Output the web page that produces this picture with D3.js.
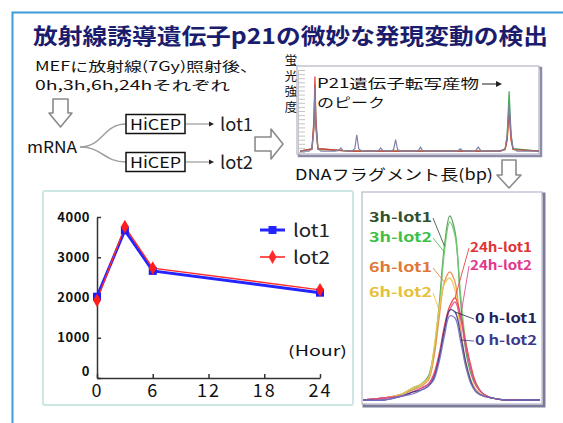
<!DOCTYPE html>
<html>
<head>
<meta charset="utf-8">
<script src="https://cdn.jsdelivr.net/npm/d3@7"></script>
<style>
  body { margin: 0; background: #fff; }
  text { font-family: "Noto Sans CJK JP", sans-serif; }
</style>
</head>
<body>
<div id="chart"></div>
<script>
// 折れ線グラフのデータ
const hours = [0, 3, 6, 24];
const lot1 = [2020, 3670, 2660, 2120];
const lot2 = [1930, 3760, 2730, 2190];
const yTicks = [0, 1000, 2000, 3000, 4000];
const xTicks = [0, 6, 12, 18, 24];
const lotNames = ["lot1", "lot2"];

// 右パネル: p21 ピーク拡大 (横は相対位置, 縦は相対強度)
const peakX = [0, 12, 22, 28, 33, 37, 40, 43, 46, 49, 52, 55, 58, 61, 64, 68, 73, 80, 90, 100];
const peakNames = ["3h-lot1", "3h-lot2", "6h-lot1", "6h-lot2", "24h-lot1", "24h-lot2", "0 h-lot1", "0 h-lot2"];
const peak3h1 = [1, 2, 4, 7, 9, 13, 25, 48, 78, 93, 85, 52, 26, 14, 8, 4, 2, 1, 1, 1];
const peak3h2 = [1, 2, 4, 6, 9, 12, 23, 45, 75, 90, 83, 55, 30, 16, 9, 4, 2, 1, 1, 1];
const peak6h1 = [1, 2, 4, 6, 8, 11, 22, 42, 60, 65, 60, 38, 20, 11, 6, 3, 2, 1, 1, 1];
const peak6h2 = [1, 2, 4, 7, 9, 12, 26, 46, 59, 62, 56, 35, 18, 10, 5, 3, 2, 1, 1, 1];
const peak24h1 = [1, 2, 3, 5, 7, 9, 14, 24, 38, 48, 52, 44, 30, 18, 9, 4, 2, 1, 1, 1];
const peak24h2 = [1, 2, 3, 5, 7, 9, 13, 22, 36, 46, 50, 42, 28, 16, 8, 4, 2, 1, 1, 1];
const peak0h1 = [1, 1, 3, 5, 6, 8, 12, 22, 36, 46, 45, 34, 20, 10, 5, 3, 2, 1, 1, 1];
const peak0h2 = [1, 1, 3, 4, 6, 8, 11, 20, 33, 43, 42, 31, 18, 9, 5, 3, 2, 1, 1, 1];

// 上の泳動図 (DNAフラグメント長と蛍光強度)
const epPos = [0, 18, 24, 28, 30, 32, 36, 42, 70, 78, 82, 86, 104, 110, 114, 118, 124, 150, 158, 162, 166, 182, 188, 192, 196, 202,
  232, 238, 242, 246, 252, 300, 316, 322, 328, 340, 352, 358, 364, 372, 404, 412, 416, 420, 424, 428, 436, 480];
const epGray = [1, 1, 4, 30, 80, 30, 4, 1, 1, 2, 5, 2, 1, 4, 21, 4, 1, 1, 2, 5, 2, 1, 3, 15, 3, 1,
  1, 2, 6, 2, 1, 1, 1, 4, 1, 1, 1, 6, 1, 1, 1, 4, 20, 60, 20, 4, 1, 1];
const tracePos = [0, 24, 28, 30, 32, 36, 100, 400, 412, 416, 420, 424, 428, 480];
const epRed = [1, 4, 40, 92, 40, 4, 1, 1, 3, 15, 52, 15, 3, 1];
const epGreen = [1, 4, 35, 82, 35, 4, 1, 1, 4, 20, 74, 20, 4, 1];
const epOrange = [1, 3, 28, 66, 28, 3, 1, 1, 3, 14, 46, 14, 3, 1];

const W = 563, H = 423;
const svg = d3.select("#chart").append("svg").attr("width", W).attr("height", H);
svg.append("rect").attr("width", W).attr("height", H).attr("fill", "#fff");

// 外枠 (左と上の青線)
svg.append("path").attr("d", `M12.5,${H} V12.5 H${W}`)
  .attr("fill", "none").attr("stroke", "#3f9bd8").attr("stroke-width", 2);

// タイトル
svg.append("text").attr("x", 33).attr("y", 44)
  .attr("font-size", 22).attr("font-weight", "bold").attr("fill", "#1c1c6e")
  .attr("textLength", 515).attr("lengthAdjust", "spacingAndGlyphs")
  .text("放射線誘導遺伝子p21の微妙な発現変動の検出");

function jpText(x, y, size, len, str, opts = {}) {
  const t = svg.append("text").attr("x", x).attr("y", y).attr("font-size", size)
    .attr("fill", opts.fill || "#111").text(str);
  if (len) t.attr("textLength", len).attr("lengthAdjust", "spacingAndGlyphs");
  if (opts.anchor) t.attr("text-anchor", opts.anchor);
  return t;
}

// 2行のテキスト (1つのtext要素にまとめる)
function jpLines(x, y, size, gap, lines) {
  const t = svg.append("text").attr("x", x).attr("y", y).attr("font-size", size).attr("fill", "#111");
  lines.forEach(([str, len], i) => {
    t.append("tspan").attr("x", x).attr("dy", i === 0 ? 0 : gap)
      .attr("textLength", len).attr("lengthAdjust", "spacingAndGlyphs").text(str);
  });
}

// 白抜き矢印
function hollowArrow(points) {
  svg.append("polygon").attr("points", points.map(p => p.join(",")).join(" "))
    .attr("fill", "#fff").attr("stroke", "#8a8a8a").attr("stroke-width", 1.6)
    .attr("stroke-linejoin", "round");
}

// ---- 上段のフロー ----
jpLines(35, 71, 13, 19, [["MEFに放射線(7Gy)照射後、", 223], ["0h,3h,6h,24hそれぞれ", 195]]);
hollowArrow([[53, 99], [68, 99], [68, 113], [72, 113], [60.5, 127], [49, 113], [53, 113]]);
jpText(27, 153, 16, 50, "mRNA");

const link = d3.linkHorizontal().x(d => d[0]).y(d => d[1]);
[[126, 124], [126, 162]].forEach(t => {
  svg.append("path").attr("d", link({source: [80, 147], target: t}))
    .attr("fill", "none").attr("stroke", "#a0a0a0").attr("stroke-width", 1.5);
});

[[124, "lot1"], [162, "lot2"]].forEach(([cy, name]) => {
  svg.append("rect").attr("x", 126).attr("y", cy - 9.5).attr("width", 59).attr("height", 19)
    .attr("fill", "#fff").attr("stroke", "#111").attr("stroke-width", 1.5);
  jpText(130, cy + 6, 15, 51, "HiCEP");
  svg.append("line").attr("x1", 186).attr("x2", 211).attr("y1", cy).attr("y2", cy)
    .attr("stroke", "#999").attr("stroke-width", 1.2);
  svg.append("path").attr("d", `M209,${cy - 2.5} L214,${cy} L209,${cy + 2.5} Z`).attr("fill", "#222");
  jpText(220, cy + 7, 18, 33, name, {fill: "#222"});
});

hollowArrow([[255, 137], [271, 137], [271, 129], [283, 144], [271, 159], [271, 151], [255, 151]]);

// 縦書き「蛍光強度」
svg.append("text").attr("x", 291).attr("y", 54)
  .attr("font-size", 12.5).attr("fill", "#111")
  .style("writing-mode", "vertical-rl").attr("letter-spacing", 3)
  .text("蛍光強度");

// ---- 泳動図 ----
const epX = d3.scaleLinear().domain([0, 480]).range([300, 539]);
const epY = d3.scaleLinear().domain([0, 100]).range([152, 70]);
svg.append("rect").attr("x", 299).attr("y", 68).attr("width", 242).attr("height", 88)
  .attr("fill", "none").attr("stroke", "#8c8ca8").attr("stroke-width", 2.5);
svg.append("rect").attr("x", 297).attr("y", 66).attr("width", 242).attr("height", 88)
  .attr("fill", "#fff").attr("stroke", "#b4b4c8").attr("stroke-width", 1.2);
svg.append("g").attr("transform", "translate(298,0)")
  .call(d3.axisRight(epY).ticks(20).tickSize(7).tickFormat(""))
  .call(g => g.selectAll("line").attr("stroke", "#c4c4c4"))
  .call(g => g.select(".domain").attr("stroke", "#c4c4c4"));

const epLine = d3.line().x(d => epX(d[0])).y(d => epY(d[1]));
[[epOrange, "#e08a30"], [epGreen, "#40b050"], [epRed, "#e03838"]].forEach(([vals, c]) => {
  svg.append("path").attr("d", epLine(tracePos.map((p, i) => [p, vals[i]])))
    .attr("fill", "none").attr("stroke", c).attr("stroke-width", 1.2);
});
svg.append("path").attr("d", epLine(epPos.map((p, i) => [p, epGray[i]])))
  .attr("fill", "none").attr("stroke", "#8080a8").attr("stroke-width", 1.2);

jpLines(317, 88, 13, 19, [["P21遺伝子転写産物", 162], ["のピーク", 68]]);
svg.append("line").attr("x1", 482).attr("x2", 498).attr("y1", 84).attr("y2", 84)
  .attr("stroke", "#444").attr("stroke-width", 1.2);
svg.append("path").attr("d", "M496,81 L502,84 L496,87 Z").attr("fill", "#222");

jpText(295, 180, 15, 198, "DNAフラグメント長(bp)");
hollowArrow([[502, 160], [516, 160], [516, 175], [521, 175], [509, 188], [497, 175], [502, 175]]);

// ---- 折れ線グラフ ----
svg.append("rect").attr("x", 43).attr("y", 191).attr("width", 310).attr("height", 214).attr("rx", 2)
  .attr("fill", "#fff").attr("stroke", "#cbe6e3").attr("stroke-width", 2);

const x = d3.scaleLinear().domain([0, 24]).range([97, 320]);
const y = d3.scaleLinear().domain([0, 4000]).range([378, 217]);

svg.append("g").attr("transform", `translate(0,${y(0)})`)
  .call(d3.axisBottom(x).tickValues(xTicks).tickSize(-4).tickSizeOuter(0).tickPadding(6))
  .call(g => g.selectAll("line,path").attr("stroke", "#333").attr("stroke-width", 1.5))
  .call(g => g.selectAll("text").attr("font-family", "DejaVu Sans").attr("font-size", 18)
    .attr("letter-spacing", 2).attr("fill", "#111"));

svg.append("g").attr("transform", `translate(${x(0)},0)`)
  .call(d3.axisLeft(y).tickValues(yTicks).tickFormat(d3.format("d"))
    .tickSize(-4).tickSizeOuter(0).tickPadding(7))
  .call(g => g.selectAll("line,path").attr("stroke", "#333").attr("stroke-width", 1.5))
  .call(g => g.selectAll("text").attr("font-family", "DejaVu Sans").attr("font-weight", "bold")
    .attr("font-size", 13).attr("letter-spacing", 0.5).attr("fill", "#111"))
  .call(g => g.selectAll(".tick").filter(d => d === 0).select("text").attr("dy", "-0.2em"));

svg.append("text").attr("x", 288).attr("y", 356).attr("font-family", "DejaVu Sans")
  .attr("font-size", 14).attr("fill", "#111").attr("textLength", 59).attr("lengthAdjust", "spacingAndGlyphs")
  .text("(Hour)");

const line = d3.line().x((d, i) => x(hours[i])).y(d => y(d));
svg.append("path").attr("d", line(lot1)).attr("fill", "none").attr("stroke", "#2424ff").attr("stroke-width", 3);
svg.append("path").attr("d", line(lot2)).attr("fill", "none").attr("stroke", "#ff2a2a").attr("stroke-width", 1.4);

const square = d3.symbol().type(d3.symbolSquare).size(64);
const diamond = d3.symbol().type(d3.symbolDiamond).size(55);
svg.append("g").selectAll("path").data(lot1).join("path")
  .attr("d", square).attr("transform", (d, i) => `translate(${x(hours[i])},${y(d)})`).attr("fill", "#1c1cff");
svg.append("g").selectAll("path").data(lot2).join("path")
  .attr("d", diamond).attr("transform", (d, i) => `translate(${x(hours[i])},${y(d)})`).attr("fill", "#ff1c1c");

// 凡例
const legend = svg.append("g");
lotNames.forEach((name, i) => {
  const ly = 230 + i * 27;
  const col = i === 0 ? "#2424ff" : "#ff2a2a";
  legend.append("line").attr("x1", 260).attr("x2", 285).attr("y1", ly).attr("y2", ly)
    .attr("stroke", col).attr("stroke-width", i === 0 ? 3 : 1.6);
  legend.append("path").attr("d", i === 0 ? square() : diamond())
    .attr("transform", `translate(272.5,${ly})`).attr("fill", col);
  legend.append("text").attr("x", 293).attr("y", ly + 7).attr("font-family", "DejaVu Sans")
    .attr("font-size", 18).attr("fill", "#222").attr("textLength", 37).attr("lengthAdjust", "spacingAndGlyphs")
    .text(name);
});

// ---- 右パネル: ピーク拡大 ----
svg.append("rect").attr("x", 364).attr("y", 194).attr("width", 180).attr("height", 212)
  .attr("fill", "none").attr("stroke", "#7c7c98").attr("stroke-width", 3);
svg.append("rect").attr("x", 362).attr("y", 192).attr("width", 180).attr("height", 212)
  .attr("fill", "#fff").attr("stroke", "#b8b8cc").attr("stroke-width", 1.2);

const px = d3.scaleLinear().domain([0, 100]).range([363, 540]);
const py = d3.scaleLinear().domain([0, 100]).range([402, 202]);
const peakLine = d3.line().x((d, i) => px(peakX[i])).y(d => py(d)).curve(d3.curveCatmullRom);

const peakSeries = [peak3h1, peak3h2, peak6h1, peak6h2, peak24h1, peak24h2, peak0h1, peak0h2];
const curveColors = ["#4a9a50", "#70cc70", "#ec8a48", "#f0c850", "#e84040", "#e04a9a", "#3a3a80", "#7070c8"];
const labelColors = ["#2f4f30", "#3cbf48", "#e07838", "#e6bf3c", "#e03434", "#e0388c", "#22225a", "#3a3a8c"];
// ラベル配置: [x, 基線y, 揃え, 引き出し線の接点index]
const labelLayout = [
  [432, 222, "end", 8], [432, 242, "end", 8], [432, 272, "end", 8], [432, 297, "end", 7],
  [470, 252, "start", 10], [470, 270, "start", 11], [475, 323, "start", 10], [475, 345, "start", 11]
];

peakSeries.forEach((vals, k) => {
  svg.append("path").attr("d", peakLine(vals)).attr("fill", "none")
    .attr("stroke", curveColors[k]).attr("stroke-width", 1.3).attr("opacity", 0.9);
});

peakNames.forEach((name, k) => {
  const [lx, ly, anchor, idx] = labelLayout[k];
  const sx = anchor === "end" ? lx + 1 : lx - 1;
  svg.append("line").attr("x1", sx).attr("y1", ly - 4)
    .attr("x2", px(peakX[idx])).attr("y2", py(peakSeries[k][idx]))
    .attr("stroke", labelColors[k]).attr("stroke-width", 1).attr("opacity", 0.8);
  svg.append("text").attr("x", lx).attr("y", ly).attr("text-anchor", anchor)
    .attr("font-family", "DejaVu Sans").attr("font-weight", "bold").attr("font-size", 13)
    .attr("fill", labelColors[k]).attr("textLength", name.length > 7 ? 62 : 63)
    .attr("lengthAdjust", "spacingAndGlyphs").text(name);
});
</script>
</body>
</html>
